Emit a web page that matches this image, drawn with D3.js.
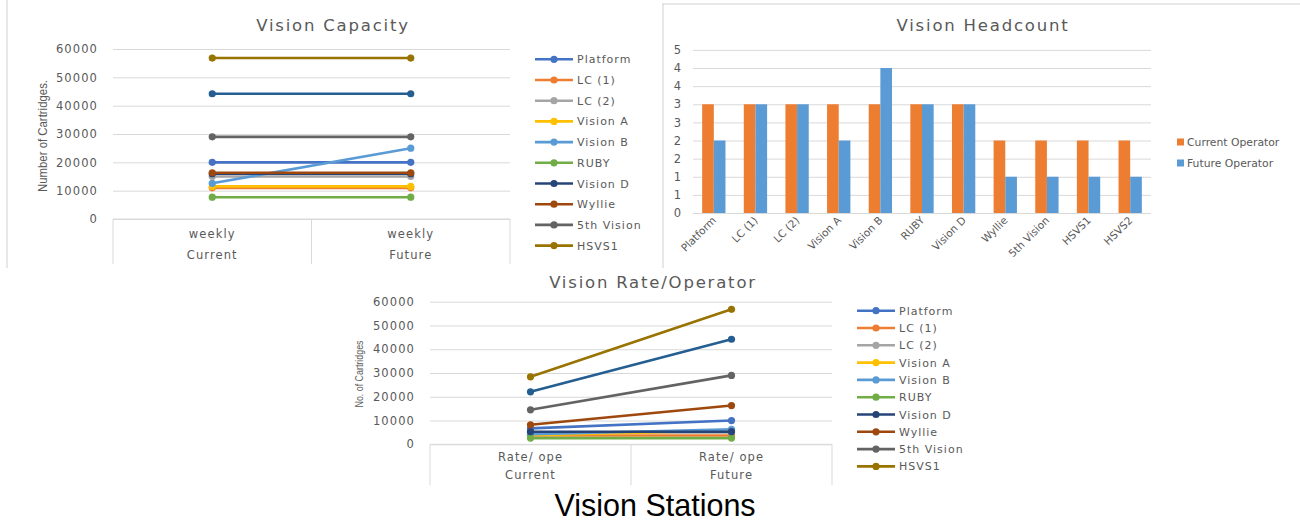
<!DOCTYPE html>
<html><head><meta charset="utf-8">
<script src="https://cdn.jsdelivr.net/npm/d3@7"></script>
<style>
html,body{margin:0;padding:0;background:#fff;}
svg{display:block;}
.tick text{font-family:"DejaVu Sans",sans-serif;fill:#595959;}
</style></head>
<body>
<svg id="c" width="1300" height="521"></svg>
<script>
// ---------- DATA ----------
const seriesNames = ["Platform","LC (1)","LC (2)","Vision A","Vision B","RUBY","Vision D","Wyllie","5th Vision","HSVS1","HSVS2"];
const legendCount = 10; // legend in the picture shows first 10 series only
const capacityGroups = ["Current","Future"];
const capacitySubLabels = ["weekly","weekly"];
const capacityCurrent = [20000,11000,15000,11500,12600,7700,16000,16300,29000,56800,44200];
const capacityFuture  = [20000,11000,15000,11500,25000,7700,16000,16300,29000,56800,44200];
const capacityTicks = [0,10000,20000,30000,40000,50000,60000];

const headcountCategories = ["Platform","LC (1)","LC (2)","Vision A","Vision B","RUBY","Vision D","Wyllie","5th Vision","HSVS1","HSVS2"];
const headcountSeries = ["Current Operator","Future Operator"];
const currentOperator = [3,3,3,3,3,3,3,2,2,2,2];
const futureOperator  = [2,3,3,2,4,3,3,1,1,1,1];
const headcountTicks = [0,0.5,1,1.5,2,2.5,3,3.5,4,4.5];
const headcountTickLabels = ["0","1","1","2","2","3","3","4","4","5"];

const rateGroups = ["Current","Future"];
const rateSubLabels = ["Rate/ ope","Rate/ ope"];
const rateCurrent = [6700,3700,5000,3800,4200,2600,5300,8200,14500,28400,22100];
const rateFuture  = [10000,3700,5000,5800,6300,2600,5300,16300,29000,56800,44200];
const rateTicks = [0,10000,20000,30000,40000,50000,60000];

// ---------- STYLE ----------
const palette = ["#4472C4","#ED7D31","#A5A5A5","#FFC000","#5B9BD5","#70AD47","#264478","#9E480E","#636363","#997300","#255E91"];
const barColors = ["#ED7D31","#5B9BD5"];
const grid = "#D9D9D9", txt = "#595959";

const svg = d3.select("#c");

// frames
svg.append("line").attr("x1",7).attr("x2",7).attr("y1",0).attr("y2",268).attr("stroke","#d0d0d0");
svg.append("line").attr("x1",662).attr("x2",1300).attr("y1",4).attr("y2",4).attr("stroke","#d0d0d0");
svg.append("line").attr("x1",663).attr("x2",663).attr("y1",4).attr("y2",268).attr("stroke","#d0d0d0");

function title(x,y,t){
  svg.append("text").attr("x",x).attr("y",y).attr("text-anchor","middle")
    .attr("font-family","DejaVu Sans").attr("font-size",16.5).attr("letter-spacing",1.8)
    .attr("fill",txt).text(t);
}

function lineChart(o){
  const g = svg.append("g");
  const y = d3.scaleLinear().domain([0,60000]).range([o.yb,o.yt]);
  const xb = d3.scaleBand().domain(o.groups).range([o.x0,o.x1]);
  const x = d3.scalePoint().domain(o.groups).range([o.x0,o.x1]).padding(0.5);
  const ax = g.append("g").attr("transform",`translate(${o.x0},0)`)
    .call(d3.axisLeft(y).tickValues(o.ticks).tickSize(-(o.x1-o.x0)).tickPadding(15).tickFormat(d3.format("d")));
  ax.select(".domain").remove();
  ax.selectAll(".tick line").attr("stroke",grid);
  ax.selectAll(".tick text").attr("font-size",11.5).attr("letter-spacing",1.1).attr("fill",txt);
  // category box
  g.append("line").attr("x1",o.x0).attr("x2",o.x1).attr("y1",o.yb).attr("y2",o.yb).attr("stroke",grid);
  const edges = o.groups.map(d=>xb(d)).concat([o.x1]);
  g.selectAll(".sep").data(edges).join("line").attr("x1",d=>d).attr("x2",d=>d)
    .attr("y1",o.yb).attr("y2",o.yb+o.boxH).attr("stroke",grid);
  g.selectAll(".sub").data(o.groups).join("text").attr("x",d=>x(d)).attr("y",o.subY)
    .attr("text-anchor","middle").attr("font-family","DejaVu Sans").attr("font-size",11.5)
    .attr("letter-spacing",1.1).attr("fill",txt).text((d,i)=>o.sub[i]);
  g.selectAll(".grp").data(o.groups).join("text").attr("x",d=>x(d)).attr("y",o.grpY)
    .attr("text-anchor","middle").attr("font-family","DejaVu Sans").attr("font-size",11.5)
    .attr("letter-spacing",1.1).attr("fill",txt).text(d=>d);
  // y title
  g.append("text").attr("transform",`translate(${o.ytX},${o.ytY}) rotate(-90)`)
    .attr("text-anchor","middle").attr("font-family","Liberation Sans").attr("font-size",o.ytSize)
    .attr("textLength",o.ytLen).attr("lengthAdjust","spacingAndGlyphs")
    .attr("fill",txt).text(o.yTitle);
  // series
  const line = d3.line().x(d=>x(d.g)).y(d=>y(d.v));
  seriesNames.forEach((name,i)=>{
    const pts = [{g:o.groups[0],v:o.a[i]},{g:o.groups[1],v:o.b[i]}];
    g.append("path").datum(pts).attr("d",line).attr("fill","none")
      .attr("stroke",palette[i]).attr("stroke-width",2.6).attr("stroke-linecap","round");
    g.selectAll(null).data(pts).join("circle").attr("cx",d=>x(d.g)).attr("cy",d=>y(d.v))
      .attr("r",3.6).attr("fill",palette[i]);
  });
  // legend
  const lg = g.append("g");
  seriesNames.slice(0,legendCount).forEach((name,i)=>{
    const yy = o.lgY + i*o.lgStep;
    lg.append("line").attr("x1",o.lgX).attr("x2",o.lgX+38).attr("y1",yy).attr("y2",yy)
      .attr("stroke",palette[i]).attr("stroke-width",2.6);
    lg.append("circle").attr("cx",o.lgX+19).attr("cy",yy).attr("r",3.6).attr("fill",palette[i]);
    lg.append("text").attr("x",o.lgX+42).attr("y",yy+4).attr("font-family","DejaVu Sans")
      .attr("font-size",11).attr("letter-spacing",1).attr("fill",txt).text(name);
  });
}

// Vision Capacity
title(333,31,"Vision Capacity");
lineChart({groups:capacityGroups, sub:capacitySubLabels, a:capacityCurrent, b:capacityFuture, ticks:capacityTicks,
  x0:113, x1:510, yt:49, yb:219, boxH:45, subY:238, grpY:259,
  yTitle:"Number of Cartridges.", ytX:47, ytY:136, ytSize:13, ytLen:112,
  lgX:535, lgY:59.3, lgStep:20.7});

// Vision Rate/Operator
title(653,288,"Vision Rate/Operator");
lineChart({groups:rateGroups, sub:rateSubLabels, a:rateCurrent, b:rateFuture, ticks:rateTicks,
  x0:430, x1:832, yt:301.7, yb:444.3, boxH:41, subY:461, grpY:479,
  yTitle:"No. of Cartridges", ytX:363, ytY:374, ytSize:11, ytLen:67,
  lgX:857, lgY:310.7, lgStep:17.3});

// Vision Headcount
title(983,31,"Vision Headcount");
(function(){
  const g = svg.append("g");
  const x0=693, x1=1151, yb=213, yt=49.9;
  const y = d3.scaleLinear().domain([0,4.5]).range([yb,yt]);
  const x = d3.scaleBand().domain(headcountCategories).range([x0,x1]).paddingInner(0.44).paddingOuter(0.22);
  const xs = d3.scaleBand().domain(headcountSeries).range([0,x.bandwidth()]);
  const ax = g.append("g").attr("transform",`translate(${x0},0)`)
    .call(d3.axisLeft(y).tickValues(headcountTicks).tickSize(-(x1-x0)).tickPadding(12)
      .tickFormat((d,i)=>headcountTickLabels[i]));
  ax.select(".domain").remove();
  ax.selectAll(".tick line").attr("stroke",grid);
  ax.selectAll(".tick text").attr("font-size",11.5).attr("fill",txt);
  const vals = [currentOperator,futureOperator];
  headcountSeries.forEach((s,si)=>{
    g.selectAll(null).data(headcountCategories).join("rect")
      .attr("x",d=>x(d)+xs(s)).attr("width",xs.bandwidth())
      .attr("y",(d,i)=>y(vals[si][i])).attr("height",(d,i)=>yb-y(vals[si][i]))
      .attr("fill",barColors[si]);
  });
  g.selectAll(".xl").data(headcountCategories).join("text")
    .attr("transform",d=>`translate(${x(d)+x.bandwidth()/2+3},221) rotate(-45)`)
    .attr("text-anchor","end").attr("font-family","DejaVu Sans").attr("font-size",10.5)
    .attr("fill",txt).text(d=>d);
  headcountSeries.forEach((s,si)=>{
    const yy = 142 + si*21;
    g.append("rect").attr("x",1177).attr("y",yy-3.5).attr("width",7).attr("height",7).attr("fill",barColors[si]);
    g.append("text").attr("x",1187).attr("y",yy+4).attr("font-family","DejaVu Sans").attr("font-size",10.8)
      .attr("fill",txt).text(s);
  });
})();

// main caption
svg.append("text").attr("x",655).attr("y",516).attr("text-anchor","middle")
  .attr("font-family","Liberation Sans").attr("font-size",30.5).attr("fill","#000").text("Vision Stations");
</script>
</body></html>
